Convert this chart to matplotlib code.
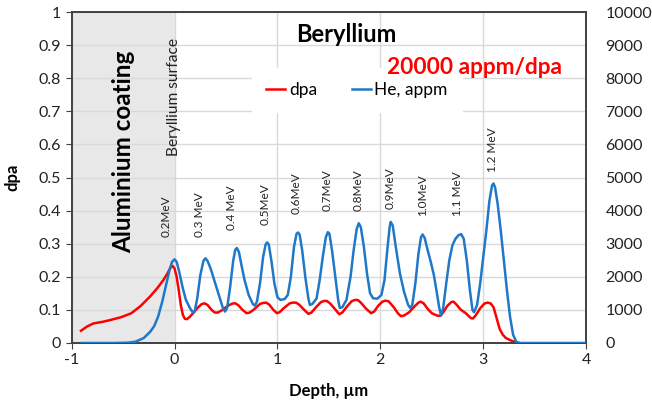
import matplotlib
matplotlib.use("Agg")
import matplotlib.pyplot as plt
from matplotlib.lines import Line2D

plt.rcParams['font.family'] = ['Lato', 'DejaVu Sans']

# ---- data ----
he_x = [-0.9, -0.6, -0.45, -0.38, -0.3, -0.24, -0.2, -0.16, -0.12, -0.08, -0.05, -0.025, 0.0,
        0.02, 0.045, 0.08, 0.11, 0.15, 0.175, 0.195, 0.22, 0.25, 0.28, 0.30, 0.32, 0.35, 0.38,
        0.43, 0.47, 0.49, 0.51, 0.54, 0.57, 0.59, 0.605, 0.625, 0.65, 0.68, 0.72, 0.76, 0.78,
        0.80, 0.83, 0.86, 0.885, 0.90, 0.915, 0.94, 0.97, 1.00, 1.03, 1.07, 1.10, 1.13, 1.16,
        1.185, 1.20, 1.215, 1.24, 1.27, 1.30, 1.315, 1.34, 1.38, 1.41, 1.44, 1.47, 1.49, 1.505,
        1.53, 1.56, 1.59, 1.605, 1.63, 1.67, 1.71, 1.74, 1.77, 1.79, 1.81, 1.84, 1.87, 1.90,
        1.93, 1.97, 2.01, 2.04, 2.07, 2.09, 2.10, 2.12, 2.15, 2.19, 2.23, 2.27, 2.29, 2.31,
        2.34, 2.37, 2.395, 2.41, 2.43, 2.46, 2.49, 2.52, 2.55, 2.57, 2.59, 2.61, 2.64, 2.67,
        2.70, 2.73, 2.76, 2.785, 2.81, 2.84, 2.87, 2.895, 2.91, 2.94, 2.97, 3.00, 3.03, 3.06,
        3.085, 3.10, 3.115, 3.14, 3.17, 3.20, 3.23, 3.26, 3.29, 3.32, 3.35, 4.0]
he_ppm = [0, 0, 10, 40, 150, 330, 500, 800, 1250, 1800, 2200, 2450, 2530,
          2450, 2150, 1650, 1300, 1050, 930, 950, 1350, 2050, 2480, 2560, 2480, 2250, 1950,
          1450, 1050, 950, 1050, 1700, 2500, 2820, 2870, 2750, 2350, 1900, 1450, 1180, 1130,
          1250, 1800, 2600, 2980, 3040, 2980, 2500, 1800, 1380, 1300, 1330, 1450, 2000, 2900,
          3300, 3340, 3280, 2800, 2000, 1350, 1150, 1180, 1350, 1900, 2600, 3200, 3350, 3300,
          2800, 2050, 1300, 1060, 1080, 1300, 2000, 2800, 3450, 3620, 3500, 2900, 2100, 1500,
          1350, 1340, 1450, 1900, 2900, 3500, 3660, 3550, 2900, 2100, 1550, 1150, 1060, 1150,
          1800, 2700, 3200, 3280, 3180, 2800, 2450, 2050, 1500, 1100, 830, 1050, 1800, 2500,
          2950, 3150, 3260, 3290, 3150, 2500, 1600, 1000, 930, 1150, 1800, 2600, 3400, 4300,
          4760, 4820, 4700, 4200, 3400, 2500, 1600, 800, 250, 40, 0, 0]

dpa_x = [-0.91, -0.85, -0.79, -0.70, -0.63, -0.52, -0.42, -0.33, -0.24, -0.17, -0.11, -0.07,
         -0.04, -0.02, 0.0, 0.02, 0.04, 0.06, 0.08, 0.10, 0.12, 0.15, 0.18, 0.22, 0.26, 0.29,
         0.32, 0.36, 0.39, 0.42, 0.46, 0.52, 0.56, 0.59, 0.62, 0.66, 0.70, 0.73, 0.77, 0.83,
         0.86, 0.89, 0.92, 0.96, 0.995, 1.02, 1.06, 1.12, 1.15, 1.18, 1.21, 1.26, 1.30, 1.33,
         1.38, 1.42, 1.45, 1.48, 1.51, 1.56, 1.60, 1.63, 1.68, 1.72, 1.75, 1.78, 1.81, 1.86,
         1.91, 1.94, 1.98, 2.02, 2.05, 2.08, 2.13, 2.17, 2.20, 2.23, 2.28, 2.33, 2.37, 2.39,
         2.42, 2.46, 2.50, 2.55, 2.58, 2.61, 2.65, 2.69, 2.71, 2.74, 2.78, 2.83, 2.88, 2.90,
         2.93, 2.97, 3.01, 3.04, 3.07, 3.10, 3.13, 3.16, 3.19, 3.22, 3.28, 3.35]
dpa_y = [0.037, 0.050, 0.059, 0.064, 0.069, 0.078, 0.090, 0.112, 0.140, 0.165, 0.190, 0.210,
         0.228, 0.233, 0.225, 0.200, 0.160, 0.115, 0.085, 0.073, 0.072, 0.080, 0.090, 0.105,
         0.117, 0.120, 0.115, 0.100, 0.092, 0.092, 0.099, 0.113, 0.119, 0.120, 0.114, 0.100,
         0.090, 0.092, 0.101, 0.118, 0.121, 0.122, 0.116, 0.100, 0.090, 0.093, 0.105, 0.120,
         0.122, 0.122, 0.116, 0.100, 0.088, 0.092, 0.110, 0.123, 0.127, 0.127, 0.120, 0.102,
         0.087, 0.092, 0.112, 0.126, 0.130, 0.130, 0.122, 0.104, 0.090, 0.095, 0.113, 0.125,
         0.128, 0.126, 0.108, 0.090, 0.081, 0.083, 0.093, 0.110, 0.122, 0.125, 0.120, 0.103,
         0.090, 0.083, 0.082, 0.092, 0.112, 0.124, 0.125, 0.116, 0.101, 0.090, 0.075, 0.074,
         0.085, 0.105, 0.119, 0.122, 0.120, 0.108, 0.075, 0.042, 0.025, 0.015, 0.006, 0.0]

energy_labels = ["0.2MeV", "0.3 MeV", "0.4 MeV", "0.5MeV", "0.6MeV", "0.7MeV",
                 "0.8MeV", "0.9MeV", "1.0MeV", "1.1 MeV", "1.2 MeV"]
energy_x = [-0.08, 0.24, 0.55, 0.88, 1.18, 1.48, 1.78, 2.09, 2.41, 2.75, 3.09]
energy_y = [0.32, 0.32, 0.34, 0.356, 0.39, 0.40, 0.40, 0.405, 0.385, 0.385, 0.517]

x_ticks = [-1, 0, 1, 2, 3, 4]
y_ticks = [0, 0.1, 0.2, 0.3, 0.4, 0.5, 0.6, 0.7, 0.8, 0.9, 1]
y2_ticks = [0, 1000, 2000, 3000, 4000, 5000, 6000, 7000, 8000, 9000, 10000]

RED = '#ff0000'
BLUE = '#1f78c8'

fig = plt.figure(figsize=(6.52, 4.04), dpi=100)
ax = fig.add_axes([0.110, 0.151, 0.789, 0.819])
ax2 = ax.twinx()

ax.axvspan(-1, 0, color='#e8e8e8', zorder=0, lw=0)
ax.set_xlim(-1, 4)
ax.set_ylim(0, 1)
ax2.set_ylim(0, 10000)
ax.set_xticks(x_ticks)
ax.set_xticklabels([str(v) for v in x_ticks])
ax.set_yticks(y_ticks)
ax.set_yticklabels(['0'] + [f'{v:g}' for v in y_ticks[1:-1]] + ['1'])
ax2.set_yticks(y2_ticks)
ax2.set_yticklabels([str(v) for v in y2_ticks])

ax.grid(True, color='#d9d9d9', lw=1, zorder=0.5)
ax.set_axisbelow(True)

for a in (ax, ax2):
    for s in a.spines.values():
        s.set_color('#404040')
        s.set_linewidth(1.2)
ax.tick_params(axis='both', labelsize=11.5, color='#404040', direction='out', length=4,
               labelcolor='#222222')
ax2.tick_params(axis='y', labelsize=11.5, length=0, pad=14, labelcolor='#222222')

ax.plot(dpa_x, dpa_y, color=RED, lw=1.8, zorder=3, solid_joinstyle='round')
ax2.plot(he_x, he_ppm, color=BLUE, lw=1.8, zorder=3, solid_joinstyle='round')

ax.set_xlabel('Depth, µm', fontsize=12, fontweight='bold', labelpad=11)
ax.set_ylabel('dpa', fontsize=12, fontweight='bold', labelpad=13)

for lab, xx, yy in zip(energy_labels, energy_x, energy_y):
    ax.text(xx, yy, lab, rotation=90, ha='center', va='bottom', fontsize=8.5,
            color='#222222', zorder=4)

ax.text(-0.50, 0.577, 'Aluminium coating', rotation=90, ha='center', va='center',
        fontsize=17.5, fontweight='bold', color='black', zorder=4)
ax.text(-0.01, 0.742, 'Beryllium surface', rotation=90, ha='center', va='center',
        fontsize=11.2, color='#222222', zorder=4)
ax.text(1.67, 0.931, 'Beryllium', ha='center', va='center', fontsize=17,
        fontweight='bold', color='black', zorder=4)

handles = [Line2D([], [], color=RED, lw=1.8), Line2D([], [], color=BLUE, lw=1.8)]
leg = ax2.legend(handles, ['dpa', 'He, appm'], ncol=2, loc='center',
                 bbox_to_anchor=(357 / 652, 1 - 90 / 404), bbox_transform=fig.transFigure,
                 fontsize=12.5, frameon=True,
                 fancybox=False, edgecolor='white', facecolor='white', framealpha=1,
                 handlelength=1.1, handletextpad=0.2, columnspacing=2.0,
                 borderpad=0.8, borderaxespad=0)
leg.set_zorder(5)

ax2.text(2.91, 8340, '20000 appm/dpa', ha='center', va='center', fontsize=16.3,
         fontweight='bold', color=RED, zorder=6)

fig.savefig('out.png', dpi=100)
